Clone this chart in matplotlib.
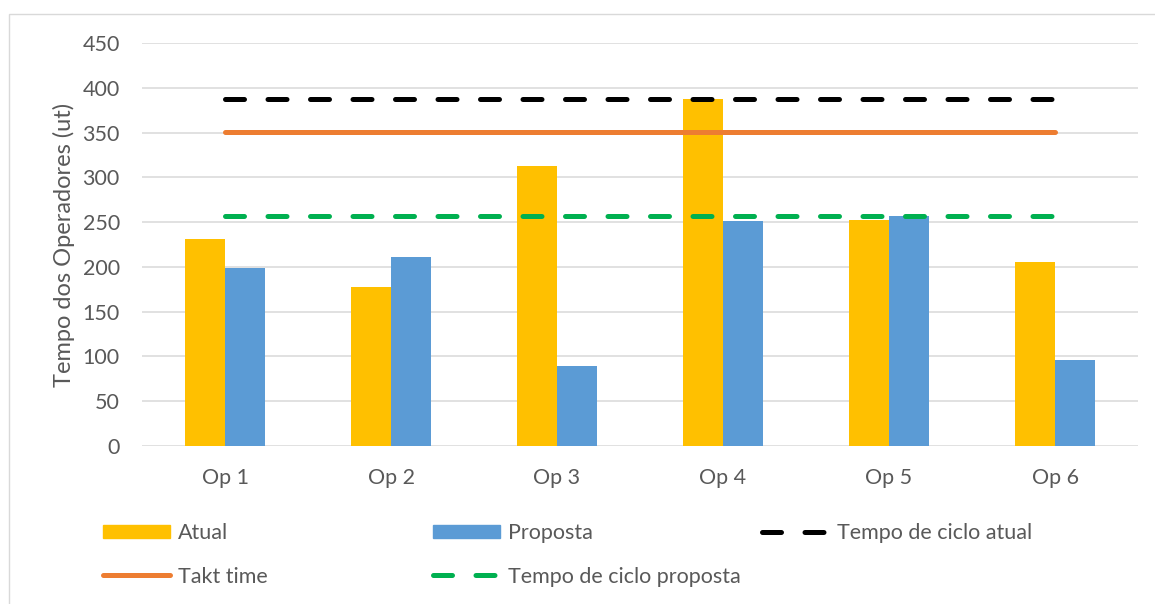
import matplotlib
matplotlib.use("Agg")
import matplotlib.pyplot as plt
from matplotlib.patches import Rectangle
from matplotlib.patches import Patch
import numpy as np

# data
operadores = ["Op 1", "Op 2", "Op 3", "Op 4", "Op 5", "Op 6"]
atual = [231, 178, 313, 388, 252, 206]
proposta = [199, 211, 89, 251, 257, 96]
ciclo_atual = 388
takt_time = 351
ciclo_proposta = 257
yticks = [0, 50, 100, 150, 200, 250, 300, 350, 400, 450]

plt.rcParams['font.family'] = ['Lato', 'DejaVu Sans']
grey_txt = "#595959"
fs = 15.5

W, H = 1155, 604
fig = plt.figure(figsize=(W / 100, H / 100), dpi=100)
ax = fig.add_axes([142 / W, (H - 446) / H, (1138 - 142) / W, (446 - 43) / H])

# outer chart border
fig.add_artist(Rectangle((9 / W, -0.05), 1.2, (H - 14) / H + 0.05, transform=fig.transFigure,
                         fill=False, edgecolor="#d9d9d9", linewidth=1.0))

x = np.arange(len(operadores))
bw = 40 / 166
ax.bar(x - bw / 2, atual, bw, color="#FFC000", zorder=2, label="Atual")
ax.bar(x + bw / 2, proposta, bw, color="#5B9BD5", zorder=2, label="Proposta")

lw = 5 * 72 / 100
dash = (3.8, 4.7)
l_ca, = ax.plot(x, [ciclo_atual] * len(x), color="black", lw=lw, dashes=dash,
                dash_capstyle="round", solid_capstyle="round", zorder=3)
l_tt, = ax.plot(x, [takt_time] * len(x), color="#ED7D31", lw=lw,
                solid_capstyle="round", zorder=3)
l_cp, = ax.plot(x, [ciclo_proposta] * len(x), color="#00B050", lw=lw, dashes=dash,
                dash_capstyle="round", solid_capstyle="round", zorder=3)

ax.set_xlim(-0.5, len(x) - 0.5)
ax.set_ylim(0, 450)
ax.set_yticks(yticks)
ax.set_xticks(x)
ax.set_xticklabels(operadores)
ax.grid(axis="y", color="#d9d9d9", linewidth=1.1, zorder=0)
ax.set_axisbelow(True)
for s in ax.spines.values():
    s.set_visible(False)
ax.tick_params(length=0, labelsize=fs, colors=grey_txt)
ax.tick_params(axis="y", pad=16)
ax.tick_params(axis="x", pad=16)
ax.set_ylabel("Tempo dos Operadores (ut)", fontsize=17, color=grey_txt, labelpad=5)

# legend, three equal columns like the Excel legend
h_atual = Patch(color="#FFC000")
h_prop = Patch(color="#5B9BD5")
fs_px = fs * 100 / 72
common = dict(frameon=False, fontsize=fs, handlelength=67 / fs_px, handletextpad=0.35,
              handleheight=0.6, borderpad=0, borderaxespad=0, labelspacing=1.1,
              loc="upper left", labelcolor=grey_txt)
cols = [([h_atual, l_tt], ["Atual", "Takt time"], 103),
        ([h_prop, l_cp], ["Proposta", "Tempo de ciclo proposta"], 433),
        ([l_ca], ["Tempo de ciclo atual"], 762)]
for hs, ls, px in cols:
    leg = fig.legend(hs, ls, bbox_to_anchor=(px / W, (H - 523) / H), **common)

fig.savefig("out.png", dpi=100)
